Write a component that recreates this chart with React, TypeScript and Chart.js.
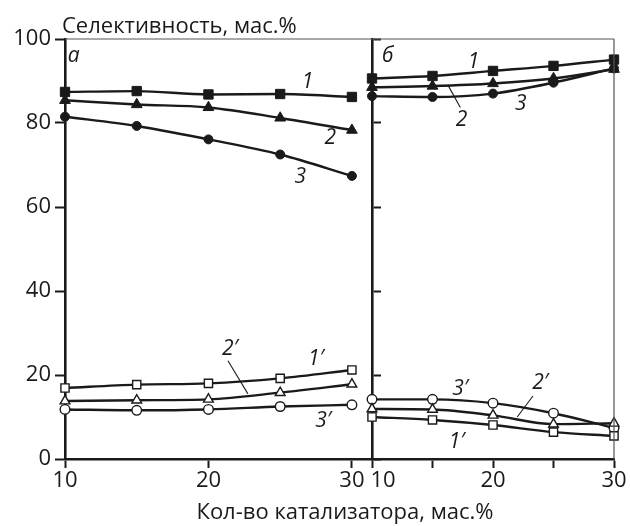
import React, { useEffect, useRef } from 'react';
import { Chart, registerables } from 'chart.js';
Chart.register(...registerables);

const FONT = '"Open Sans", "Noto Sans", sans-serif';
const INK = '#1a1a1a';

// ---- data ----
const xValues = [10, 15, 20, 25, 30];

const leftS1 = [87.4, 87.6, 86.8, 86.9, 86.2];
const leftS2 = [85.4, 84.4, 83.7, 81.2, 78.3];
const leftS3 = [81.5, 79.3, 76.1, 72.5, 67.4];
const leftS1p = [16.9, 17.7, 18.0, 19.2, 21.2];
const leftS2p = [13.8, 14.0, 14.2, 15.8, 17.8];
const leftS3p = [11.8, 11.6, 11.8, 12.5, 12.9];

const rightS1 = [90.6, 91.2, 92.4, 93.6, 95.1];
const rightS2 = [88.5, 88.8, 89.4, 90.6, 92.8];
const rightS3 = [86.4, 86.2, 87.0, 89.6, 93.0];
const rightS1p = [10.0, 9.3, 8.1, 6.4, 5.5];
const rightS2p = [11.9, 11.8, 10.4, 8.3, 8.5];
const rightS3p = [14.2, 14.2, 13.3, 10.9, 7.4];

const yTickValues = [0, 20, 40, 60, 80, 100];
const leftXTicks = [10, 20, 30];
const rightXTicks = [10, 15, 20, 25, 30];
const rightXLabels = ['10', '', '20', '', '30'];

const yTitle = 'Селективность, мас.%';
const xTitle = 'Кол-во катализатора, мас.%';

const leftNotes = [
  { text: 'а', x: 10.6, y: 96 },
  { text: '1', x: 26.9, y: 89.7 },
  { text: '2', x: 28.5, y: 76.4 },
  { text: '3', x: 26.4, y: 67.1 },
  { text: '2′', x: 21.5, y: 26.3 },
  { text: '1′', x: 27.5, y: 23.8 },
  { text: '3′', x: 28.0, y: 9.1 },
];
const leftLeaders = [{ x1: 21.36, y1: 23.4, x2: 22.75, y2: 15.5 }];

const rightNotes = [
  { text: 'б', x: 11.3, y: 96 },
  { text: '1', x: 18.4, y: 94.5 },
  { text: '2', x: 17.4, y: 80.7 },
  { text: '3', x: 22.3, y: 84.5 },
  { text: '3′', x: 17.3, y: 16.7 },
  { text: '2′', x: 23.9, y: 18.1 },
  { text: '1′', x: 17.0, y: 4.1 },
];
const rightLeaders = [
  { x1: 16.3, y1: 88.9, x2: 17.3, y2: 83.7 },
  { x1: 23.3, y1: 15.0, x2: 22.0, y2: 10.0 },
];

type Mk = 'rect' | 'triangle' | 'circle';
function ds(values: number[], marker: Mk, filled: boolean) {
  const radius = marker === 'rect' ? (filled ? 6.6 : 5.8) : marker === 'triangle' ? (filled ? 6.2 : 5.6) : filled ? 4.5 : 4.8;
  return {
    data: xValues.map((x, i) => ({ x, y: values[i] })),
    borderColor: INK,
    borderWidth: 2.4,
    pointStyle: marker,
    pointRadius: radius,
    pointBackgroundColor: filled ? INK : '#ffffff',
    pointBorderColor: INK,
    pointBorderWidth: filled ? 1 : 1.4,
    cubicInterpolationMode: 'monotone' as const,
    clip: false as any,
  };
}

function notesPlugin(id: string, notes: any[], leaders: any[], extra?: (c: any) => void) {
  return {
    id,
    afterDraw(chart: any) {
      const { ctx, scales, chartArea } = chart;
      const xs = scales.x;
      const ys = scales.y;
      ctx.save();
      ctx.strokeStyle = '#555';
      ctx.lineWidth = 1.2;
      ctx.beginPath();
      ctx.moveTo(chartArea.left, chartArea.top);
      ctx.lineTo(chartArea.right, chartArea.top);
      ctx.stroke();
      ctx.fillStyle = INK;
      ctx.font = `italic 21px ${FONT}`;
      ctx.textAlign = 'center';
      ctx.textBaseline = 'middle';
      for (const n of notes) {
        ctx.fillText(n.text, xs.getPixelForValue(n.x), ys.getPixelForValue(n.y));
      }
      ctx.strokeStyle = INK;
      ctx.lineWidth = 1.1;
      for (const l of leaders) {
        ctx.beginPath();
        ctx.moveTo(xs.getPixelForValue(l.x1), ys.getPixelForValue(l.y1));
        ctx.lineTo(xs.getPixelForValue(l.x2), ys.getPixelForValue(l.y2));
        ctx.stroke();
      }
      if (extra) extra(chart);
      ctx.restore();
    },
  };
}

const tickFont = { family: FONT, size: 22 };

export default function App() {
  const leftRef = useRef<HTMLCanvasElement>(null);
  const rightRef = useRef<HTMLCanvasElement>(null);

  useEffect(() => {
    const left = new Chart(leftRef.current!, {
      type: 'line',
      data: {
        datasets: [
          ds(leftS1, 'rect', true),
          ds(leftS2, 'triangle', true),
          ds(leftS3, 'circle', true),
          ds(leftS1p, 'rect', false),
          ds(leftS2p, 'triangle', false),
          ds(leftS3p, 'circle', false),
        ] as any,
      },
      options: {
        responsive: false,
        animation: false,
        layout: { padding: { top: 39, left: 0, right: 0, bottom: 0 } },
        plugins: { legend: { display: false }, tooltip: { enabled: false }, title: { display: false } },
        scales: {
          x: {
            type: 'linear',
            position: 'bottom',
            min: 10,
            max: 31.4,
            afterBuildTicks: (s: any) => {
              s.ticks = leftXTicks.map((v) => ({ value: v }));
            },
            afterFit: (s: any) => {
              s.height = 67;
            },
            ticks: { font: tickFont, color: INK, padding: 0, maxRotation: 0, autoSkip: false },
            grid: { drawOnChartArea: false, drawTicks: true, tickLength: 9, tickWidth: 2, tickColor: INK },
            border: { width: 2.6, color: INK },
          },
          y: {
            position: 'left',
            min: 0,
            max: 100,
            afterBuildTicks: (s: any) => {
              s.ticks = yTickValues.map((v) => ({ value: v }));
            },
            afterFit: (s: any) => {
              s.width = 65;
            },
            ticks: { font: tickFont, color: INK, padding: 4, autoSkip: false },
            grid: { drawOnChartArea: false, drawTicks: true, tickLength: 10, tickWidth: 2, tickColor: INK },
            border: { width: 2.6, color: INK },
          },
          y2: {
            position: 'right',
            min: 0,
            max: 100,
            afterBuildTicks: (s: any) => {
              s.ticks = yTickValues.map((v) => ({ value: v }));
            },
            afterFit: (s: any) => {
              s.width = 258;
            },
            ticks: { display: false },
            grid: { drawOnChartArea: false, drawTicks: true, tickLength: 9, tickWidth: 2, tickColor: INK },
            border: { width: 2.6, color: INK },
          },
        },
      } as any,
      plugins: [
        notesPlugin('leftNotes', leftNotes, leftLeaders, (chart: any) => {
          const { ctx } = chart;
          ctx.fillStyle = INK;
          ctx.font = `22px ${FONT}`;
          ctx.textBaseline = 'alphabetic';
          ctx.textAlign = 'left';
          ctx.fillText(yTitle, 62, 33);
          ctx.textAlign = 'center';
          ctx.fillText(xTitle, 345, 519);
        }),
      ],
    });

    const right = new Chart(rightRef.current!, {
      type: 'line',
      data: {
        datasets: [
          ds(rightS1, 'rect', true),
          ds(rightS2, 'triangle', true),
          ds(rightS3, 'circle', true),
          ds(rightS1p, 'rect', false),
          ds(rightS2p, 'triangle', false),
          ds(rightS3p, 'circle', false),
        ] as any,
      },
      options: {
        responsive: false,
        animation: false,
        layout: { padding: { top: 39, left: 372, right: 16, bottom: 0 } },
        plugins: { legend: { display: false }, tooltip: { enabled: false }, title: { display: false } },
        scales: {
          x: {
            type: 'linear',
            position: 'bottom',
            min: 10,
            max: 30,
            afterBuildTicks: (s: any) => {
              s.ticks = rightXTicks.map((v) => ({ value: v }));
            },
            afterFit: (s: any) => {
              s.height = 67;
            },
            ticks: {
              font: tickFont,
              color: INK,
              padding: 0,
              maxRotation: 0,
              autoSkip: false,
              callback: (_v: any, i: number) => (i === 0 ? '\u2002\u2002' + rightXLabels[i] : rightXLabels[i]),
            },
            grid: { drawOnChartArea: false, drawTicks: true, tickLength: 9, tickWidth: 2, tickColor: INK },
            border: { width: 2.6, color: INK },
          },
          y: { display: false, min: 0, max: 100 },
        },
      } as any,
      plugins: [
        notesPlugin('rightNotes', rightNotes, rightLeaders, (chart: any) => {
          const { ctx, chartArea } = chart;
          ctx.strokeStyle = '#555';
          ctx.lineWidth = 1.2;
          ctx.beginPath();
          ctx.moveTo(chartArea.right, chartArea.top);
          ctx.lineTo(chartArea.right, chartArea.bottom);
          ctx.stroke();
        }),
      ],
    });

    return () => {
      left.destroy();
      right.destroy();
    };
  }, []);

  return (
    <div style={{ position: 'fixed', left: 0, top: 0, width: 630, height: 526, background: '#fff' }}>
      <canvas ref={leftRef} width={630} height={526} style={{ position: 'absolute', left: 0, top: 0 }} />
      <canvas ref={rightRef} width={630} height={526} style={{ position: 'absolute', left: 0, top: 0 }} />
    </div>
  );
}
